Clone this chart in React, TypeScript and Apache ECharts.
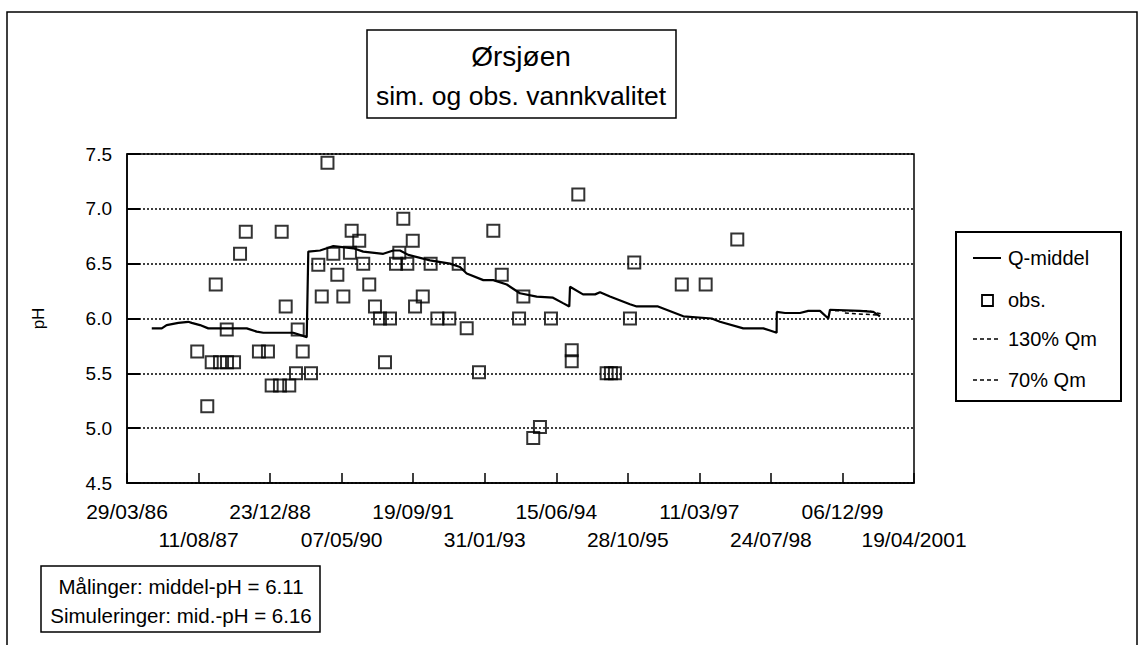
import React, { useEffect, useRef } from "react";
import * as echarts from "echarts";

// x values: days after 29/03/1986
const tickLabels = [
  "29/03/86", "11/08/87", "23/12/88", "07/05/90", "19/09/91", "31/01/93",
  "15/06/94", "28/10/95", "11/03/97", "24/07/98", "06/12/99", "19/04/2001",
];

const qDays = [173, 243, 277, 359, 428, 452, 510, 568, 837, 906, 953, 1162, 1256, 1267, 1349, 1396, 1442, 1582, 1651, 1791, 1861, 1908, 1966, 2118, 2257, 2327, 2374, 2490, 2560, 2654, 2746, 2863, 2977, 3047, 3091, 3096, 3187, 3271, 3306, 3375, 3515, 3562, 3711, 3888, 4086, 4144, 4307, 4447, 4494, 4540, 4541, 4599, 4703, 4761, 4843, 4901, 4913, 5123, 5216, 5262];
const qPH = [5.91, 5.91, 5.94, 5.96, 5.97, 5.96, 5.94, 5.91, 5.91, 5.88, 5.87, 5.87, 5.83, 6.61, 6.62, 6.64, 6.66, 6.64, 6.61, 6.59, 6.62, 6.62, 6.58, 6.53, 6.5, 6.47, 6.41, 6.35, 6.35, 6.31, 6.23, 6.2, 6.19, 6.14, 6.11, 6.29, 6.22, 6.22, 6.24, 6.2, 6.13, 6.11, 6.11, 6.02, 6.0, 5.97, 5.91, 5.91, 5.89, 5.87, 6.06, 6.05, 6.05, 6.07, 6.07, 6.0, 6.08, 6.07, 6.06, 6.02];

const q130Days = [4948, 5181, 5276];
const q130PH = [6.07, 6.07, 6.04];
const q70Days = [5017, 5262];
const q70PH = [6.05, 6.03];

const obsDays = [491, 561, 592, 620, 650, 697, 699, 748, 790, 830, 922, 985, 1011, 1069, 1081, 1109, 1134, 1181, 1193, 1228, 1286, 1337, 1361, 1401, 1442, 1470, 1512, 1558, 1570, 1623, 1651, 1693, 1733, 1768, 1803, 1838, 1880, 1903, 1931, 1959, 1997, 2013, 2067, 2122, 2169, 2252, 2318, 2374, 2460, 2560, 2619, 2740, 2770, 2839, 2886, 2963, 3108, 3108, 3154, 3352, 3382, 3410, 3515, 3545, 3877, 4044, 4265];
const obsPH = [5.7, 5.2, 5.6, 6.31, 5.6, 5.9, 5.6, 5.6, 6.59, 6.79, 5.7, 5.7, 5.39, 5.39, 6.79, 6.11, 5.39, 5.5, 5.9, 5.7, 5.5, 6.49, 6.2, 7.42, 6.59, 6.4, 6.2, 6.6, 6.8, 6.71, 6.5, 6.31, 6.11, 6.0, 5.6, 6.0, 6.5, 6.6, 6.91, 6.5, 6.71, 6.11, 6.2, 6.5, 6.0, 6.0, 6.5, 5.91, 5.51, 6.8, 6.4, 6.0, 6.2, 4.91, 5.01, 6.0, 5.71, 5.61, 7.13, 5.5, 5.5, 5.5, 6.0, 6.51, 6.31, 6.31, 6.72];

const legendItems = ["Q-middel", "obs.", "130% Qm", "70% Qm"];
const titleText = "Ørsjøen";
const subtitleText = "sim. og obs. vannkvalitet";
const statLines = ["Målinger: middel-pH = 6.11", "Simuleringer: mid.-pH = 6.16"];

const FONT = '"Liberation Sans", Arial, sans-serif';

export default function App() {
  const ref = useRef<HTMLDivElement>(null);
  useEffect(() => {
    document.body.style.margin = "0";
    const chart = echarts.init(ref.current!, null, { renderer: "svg" });
    const zip = (xs: number[], ys: number[]) => xs.map((x, i) => [x, ys[i]]);
    const txt = (x: number, y: number, text: string, size: number, align = "left") => ({
      type: "text",
      x,
      y,
      style: { text, fontSize: size, fontFamily: FONT, fill: "#000", align, verticalAlign: "middle" },
    });
    const legendX = 973;
    const legendY = [258, 300, 339, 380];
    const xLabel = (row: number, margin: number) => ({
      color: "#000",
      fontSize: 21,
      fontFamily: FONT,
      margin,
      showMinLabel: true,
      showMaxLabel: true,
      hideOverlap: false,
      formatter: (v: number) => {
        const i = Math.round(v / 500);
        return i % 2 === row ? tickLabels[i] ?? "" : "";
      },
    });
    chart.setOption({
      animation: false,
      backgroundColor: "#fff",
      textStyle: { fontFamily: FONT },
      grid: {
        left: 127,
        top: 154,
        width: 787,
        height: 329,
        show: true,
        borderColor: "#000",
        borderWidth: 1.5,
      },
      xAxis: [
        {
          type: "value",
          position: "bottom",
          min: 0,
          max: 5500,
          interval: 500,
          axisLine: { show: true, onZero: false, lineStyle: { color: "#000", width: 1.5 } },
          axisTick: { show: true, inside: true, length: 10, lineStyle: { color: "#000", width: 1.5 } },
          splitLine: { show: false },
          axisLabel: xLabel(0, 18),
        },
        {
          type: "value",
          position: "bottom",
          min: 0,
          max: 5500,
          interval: 500,
          axisLine: { show: false, onZero: false },
          axisTick: { show: false },
          splitLine: { show: false },
          axisLabel: xLabel(1, 46),
        },
      ],
      yAxis: {
        type: "value",
        min: 4.5,
        max: 7.5,
        interval: 0.5,
        name: "pH",
        nameLocation: "middle",
        nameGap: 80,
        nameTextStyle: { color: "#000", fontSize: 17, fontFamily: FONT },
        axisLine: { show: true, lineStyle: { color: "#000", width: 1.5 } },
        axisTick: { show: true, inside: true, length: 13, lineStyle: { color: "#000", width: 2 } },
        splitLine: { show: true, lineStyle: { color: "#000", type: [2, 2], width: 1.5 } },
        axisLabel: {
          color: "#000",
          fontSize: 19,
          fontFamily: FONT,
          margin: 15,
          showMinLabel: true,
          showMaxLabel: true,
          formatter: (v: number) => v.toFixed(1),
        },
      },
      series: [
        {
          name: legendItems[0],
          type: "line",
          data: zip(qDays, qPH),
          showSymbol: false,
          lineStyle: { color: "#000", width: 2.2 },
          z: 3,
        },
        {
          name: legendItems[1],
          type: "scatter",
          data: zip(obsDays, obsPH),
          symbol: "rect",
          symbolSize: 12,
          itemStyle: { color: "rgba(0,0,0,0)", borderColor: "#000", borderWidth: 2 },
          z: 4,
        },
        {
          name: legendItems[2],
          type: "line",
          data: zip(q130Days, q130PH),
          showSymbol: false,
          lineStyle: { color: "#000", width: 1.5, type: [4, 3] },
          z: 3,
        },
        {
          name: legendItems[3],
          type: "line",
          data: zip(q70Days, q70PH),
          showSymbol: false,
          lineStyle: { color: "#000", width: 1.5, type: [4, 3] },
          z: 3,
        },
      ],
      graphic: [
        {
          type: "rect",
          shape: { x: 7, y: 12, width: 1130, height: 660 },
          style: { fill: "none", stroke: "#000", lineWidth: 1.5 },
          silent: true,
        },
        {
          type: "rect",
          shape: { x: 367, y: 30, width: 309, height: 88 },
          style: { fill: "#fff", stroke: "#000", lineWidth: 1.5 },
        },
        txt(521, 56, titleText, 28, "center"),
        txt(521, 96, subtitleText, 26.5, "center"),
        {
          type: "rect",
          shape: { x: 956, y: 232, width: 165, height: 169 },
          style: { fill: "#fff", stroke: "#000", lineWidth: 2 },
        },
        {
          type: "line",
          shape: { x1: legendX, y1: legendY[0], x2: legendX + 28, y2: legendY[0] },
          style: { stroke: "#000", lineWidth: 2 },
        },
        {
          type: "rect",
          shape: { x: legendX + 9, y: legendY[1] - 5, width: 11, height: 11 },
          style: { fill: "none", stroke: "#000", lineWidth: 1.8 },
        },
        {
          type: "line",
          shape: { x1: legendX, y1: legendY[2], x2: legendX + 27, y2: legendY[2] },
          style: { stroke: "#000", lineWidth: 1.5, lineDash: [4, 3] },
        },
        {
          type: "line",
          shape: { x1: legendX, y1: legendY[3], x2: legendX + 27, y2: legendY[3] },
          style: { stroke: "#000", lineWidth: 1.5, lineDash: [4, 3] },
        },
        ...legendItems.map((t, i) => txt(legendX + 35, legendY[i], t, 20)),
        {
          type: "rect",
          shape: { x: 41, y: 566, width: 279, height: 66 },
          style: { fill: "#fff", stroke: "#000", lineWidth: 1.5 },
        },
        txt(181, 586, statLines[0], 20.5, "center"),
        txt(181, 615, statLines[1], 20.5, "center"),
      ],
    });
    return () => chart.dispose();
  }, []);
  return <div ref={ref} style={{ width: 1142, height: 645 }} />;
}
